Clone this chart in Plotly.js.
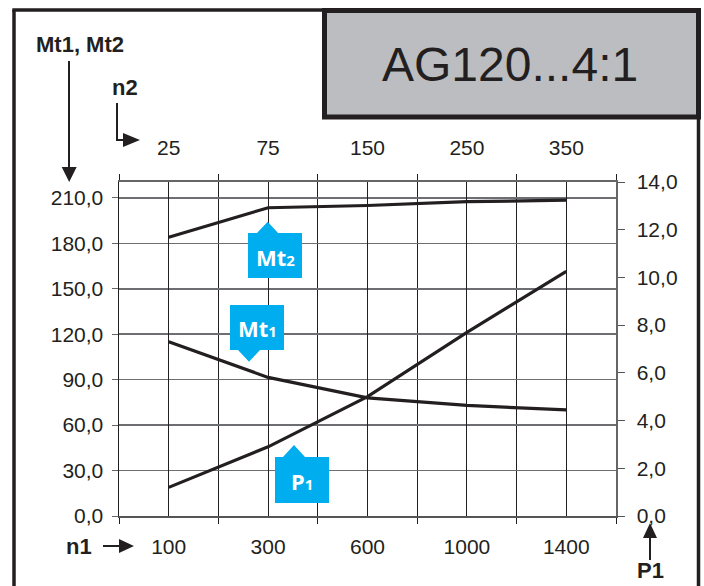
<!DOCTYPE html>
<html>
<head>
<meta charset="utf-8">
<script src="https://cdn.plot.ly/plotly-3.0.1.min.js"></script>
<style>
html,body{margin:0;padding:0;background:#fff;}
#chart{width:704px;height:586px;}
</style>
</head>
<body>
<div id="chart"></div>
<script>
// ---- data ----
const n1 = ['100', '300', '600', '1000', '1400'];
const n2 = ['25', '75', '150', '250', '350'];
const mt2 = [184, 203.5, 205, 207.5, 208.5];
const mt1 = [115, 91.5, 78, 73, 70];
const p1 = [1.2, 2.9, 5.0, 7.7, 10.25];
const title = 'AG120...4:1';

// ---- geometry helpers (pixel -> paper) ----
const L = 119, R = 616, T = 182, B = 516;
const X = p => (p - L) / (R - L);
const Y = p => (B - p) / (B - T);
const path = pts => 'M ' + pts.map(p => X(p[0]).toFixed(5) + ',' + Y(p[1]).toFixed(5)).join(' L ') + ' Z';
const ink = '#231f20';
const blue = '#00aeef';

const lineStyle = {color: ink, width: 3.2};
const traces = [
  {x: n1, y: mt2, type: 'scatter', mode: 'lines', line: lineStyle, xaxis: 'x', yaxis: 'y', hoverinfo: 'skip'},
  {x: n1, y: mt1, type: 'scatter', mode: 'lines', line: lineStyle, xaxis: 'x', yaxis: 'y', hoverinfo: 'skip'},
  {x: n1, y: p1, type: 'scatter', mode: 'lines', line: lineStyle, xaxis: 'x', yaxis: 'y2', hoverinfo: 'skip'},
  {x: n2, y: n2.map(() => null), type: 'scatter', mode: 'lines', xaxis: 'x2', yaxis: 'y', hoverinfo: 'skip'},
  {x: n1, y: n1.map(() => null), type: 'scatter', mode: 'lines', xaxis: 'x3', yaxis: 'y', hoverinfo: 'skip'}
];

const tickFont = {family: 'Liberation Sans, Arial, sans-serif', size: 21, color: ink};
const catRange = [-0.5, 4.5];

const shapes = [
  // outer frame
  {type: 'line', xref: 'paper', yref: 'paper', x0: X(14), x1: X(14), y0: Y(10), y1: Y(590), line: {color: ink, width: 3.5}},
  {type: 'line', xref: 'paper', yref: 'paper', x0: X(12.3), x1: X(324), y0: Y(10), y1: Y(10), line: {color: ink, width: 3.5}},
  {type: 'line', xref: 'paper', yref: 'paper', x0: X(698.5), x1: X(698.5), y0: Y(117), y1: Y(590), line: {color: ink, width: 3.5}},
  // title box
  {type: 'rect', xref: 'paper', yref: 'paper', x0: X(324.5), x1: X(698.5), y0: Y(10.5), y1: Y(117), fillcolor: '#bcbdc1', line: {color: ink, width: 5}},
  // Mt1, Mt2 arrow
  {type: 'line', xref: 'paper', yref: 'paper', x0: X(69), x1: X(69), y0: Y(61), y1: Y(168), line: {color: ink, width: 2}},
  {type: 'path', xref: 'paper', yref: 'paper', path: path([[61.7, 167], [76.7, 167], [69.2, 182]]), fillcolor: ink, line: {width: 0}},
  // n2 bent arrow
  {type: 'path', xref: 'paper', yref: 'paper', path: 'M ' + X(117) + ',' + Y(103) + ' L ' + X(117) + ',' + Y(140) + ' L ' + X(125) + ',' + Y(140), line: {color: ink, width: 2}},
  {type: 'path', xref: 'paper', yref: 'paper', path: path([[123, 133], [123, 147], [140, 140]]), fillcolor: ink, line: {width: 0}},
  // n1 arrow
  {type: 'line', xref: 'paper', yref: 'paper', x0: X(103), x1: X(121), y0: Y(546), y1: Y(546), line: {color: ink, width: 2}},
  {type: 'path', xref: 'paper', yref: 'paper', path: path([[119, 539], [119, 553], [134, 546]]), fillcolor: ink, line: {width: 0}},
  // P1 arrow
  {type: 'line', xref: 'paper', yref: 'paper', x0: X(650), x1: X(650), y0: Y(560), y1: Y(537), line: {color: ink, width: 2}},
  {type: 'path', xref: 'paper', yref: 'paper', path: path([[643, 538], [657, 538], [650, 523]]), fillcolor: ink, line: {width: 0}},
  // callouts
  {type: 'path', xref: 'paper', yref: 'paper', layer: 'above', path: path([[248, 233], [257, 233], [267.7, 221.7], [278, 233], [302, 233], [302, 278], [248, 278]]), fillcolor: blue, line: {width: 0}},
  {type: 'path', xref: 'paper', yref: 'paper', layer: 'above', path: path([[230, 305], [284, 305], [284, 350], [260, 350], [249, 361.7], [238, 350], [230, 350]]), fillcolor: blue, line: {width: 0}},
  {type: 'path', xref: 'paper', yref: 'paper', layer: 'above', path: path([[275, 457], [283, 457], [294, 445], [305, 457], [329, 457], [329, 503], [275, 503]]), fillcolor: blue, line: {width: 0}}
];

const boldFont = {family: 'Liberation Sans, Arial, sans-serif', size: 22, color: ink};
const calloutFont = {family: 'Noto Sans, sans-serif', size: 22, color: '#ffffff'};
const ann = (txt, px, py, font) => ({text: txt, xref: 'paper', yref: 'paper', x: X(px), y: Y(py), xanchor: 'center', yanchor: 'middle', showarrow: false, font: font});
const annotations = [
  ann(title, 510, 64, {family: 'Liberation Sans, Arial, sans-serif', size: 48, color: ink}),
  ann('<b>Mt1, Mt2</b>', 80, 45, boldFont),
  ann('<b>n2</b>', 125, 88, boldFont),
  ann('<b>n1</b>', 79, 546, boldFont),
  ann('<b>P1</b>', 650, 570, boldFont),
  ann('<b>Mt<span style="font-size:15px">2</span></b>', 275, 257, calloutFont),
  ann('<b>Mt<span style="font-size:15px">1</span></b>', 257, 328, calloutFont),
  ann('<b>P<span style="font-size:15px">1</span></b>', 302, 481, calloutFont)
];

const layout = {
  width: 704, height: 586,
  margin: {l: L, r: 704 - R, t: T, b: 586 - B, pad: 0},
  paper_bgcolor: '#ffffff', plot_bgcolor: '#ffffff',
  showlegend: false,
  separators: ',.',
  font: tickFont,
  xaxis: {
    type: 'category', range: catRange, tickson: 'boundaries',
    ticks: 'outside', ticklen: 6, tickwidth: 1, tickcolor: ink,
    showgrid: true, gridcolor: ink, gridwidth: 1,
    showline: true, linecolor: '#555', linewidth: 2,
    tickfont: tickFont, ticklabelstandoff: 11, zeroline: false, fixedrange: true
  },
  xaxis2: {
    type: 'category', range: catRange, overlaying: 'x', side: 'top', anchor: 'y',
    tickson: 'boundaries', ticks: 'outside', ticklen: 6, tickwidth: 1, tickcolor: ink,
    showgrid: false, showline: true, linecolor: '#666', linewidth: 1.6,
    tickfont: tickFont, ticklabelstandoff: 17, fixedrange: true
  },
  xaxis3: {
    type: 'category', range: catRange, overlaying: 'x', anchor: 'y',
    ticks: '', showticklabels: false, showgrid: true, gridcolor: ink, gridwidth: 1,
    showline: false, fixedrange: true
  },
  yaxis: {
    range: [0, 220.5], tick0: 0, dtick: 30, tickformat: '.1f',
    ticks: 'outside', ticklen: 6, tickwidth: 1, tickcolor: '#666',
    showgrid: true, gridcolor: '#6d6e71', gridwidth: 1.6,
    zeroline: true, zerolinecolor: '#555', zerolinewidth: 2.5,
    showline: true, linecolor: ink, linewidth: 1.5,
    tickfont: tickFont, ticklabelstandoff: 4, fixedrange: true
  },
  yaxis2: {
    range: [0, 14], tick0: 0, dtick: 2, tickformat: '.1f', overlaying: 'y', side: 'right', anchor: 'x',
    ticks: 'outside', ticklen: 7, tickwidth: 1, tickcolor: '#555',
    showgrid: false, zeroline: false,
    showline: true, linecolor: '#666', linewidth: 1.5,
    tickfont: tickFont, ticklabelstandoff: 8, fixedrange: true
  },
  shapes: shapes,
  annotations: annotations
};

Plotly.newPlot('chart', traces, layout, {displayModeBar: false, staticPlot: true});
</script>
</body>
</html>
